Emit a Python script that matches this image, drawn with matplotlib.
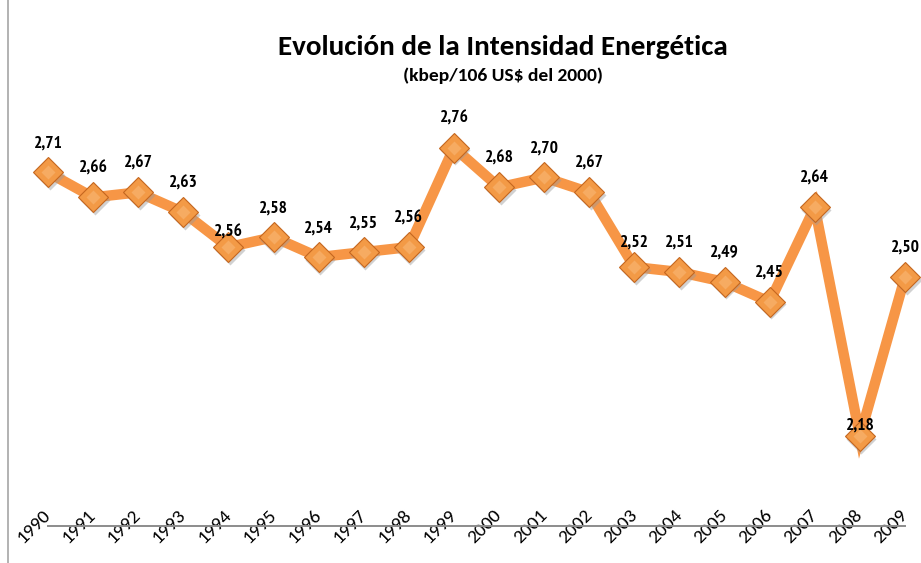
"""
Evolución de la Intensidad Energética, 1990-2009 (line with diamond markers).
"""

import matplotlib
matplotlib.use("Agg")
import matplotlib.pyplot as plt
from matplotlib.lines import Line2D
from matplotlib.transforms import ScaledTranslation

years = list(range(1990, 2010))
intensity = [2.71, 2.66, 2.67, 2.63, 2.56, 2.58, 2.54, 2.55, 2.56, 2.76,
             2.68, 2.70, 2.67, 2.52, 2.51, 2.49, 2.45, 2.64, 2.18, 2.50]
year_labels = [str(y) for y in years]

TITLE = "Evolución de la Intensidad Energética"
SUBTITLE = "(kbep/106 US$ del 2000)"

LINE_COLOR = "#F79646"
MARKER_FACE = "#F39A46"
MARKER_EDGE = "#C4661F"
CALIBRI = ["Carlito", "DejaVu Sans"]
NARROW = ["PT Sans Narrow", "Archivo Narrow", "DejaVu Sans"]

# label offsets above the point, in pixels (a few sit close to the marker)
LABEL_OFFSET = {1994: 15, 2003: 24, 2008: 11}

W, H = 921, 563
fig = plt.figure(figsize=(W / 100, H / 100), dpi=100)
fig.patch.set_facecolor("white")

x0, x1 = 48, 905        # pixel x of first / last year
y_axis, y_top = 526, 28  # pixel y of value 2.0 and 3.0
ax = fig.add_axes([x0 / W, (H - y_axis) / H, (x1 - x0) / W, (y_axis - y_top) / H])
ax.set_xlim(years[0], years[-1])
ax.set_ylim(2.0, 3.0)
for s in ("left", "right", "top"):
    ax.spines[s].set_visible(False)
ax.spines["bottom"].set_color("#8c8c8c")
ax.spines["bottom"].set_linewidth(1.4)
ax.set_yticks([])
ax.set_xticks(years)
ax.set_xticklabels(year_labels, rotation=45, ha="right", va="center",
                   rotation_mode="anchor", family=CALIBRI, fontsize=14)
ax.tick_params(axis="x", length=0, pad=-10)

# shadow, line, markers
ax.plot(years, intensity, color=LINE_COLOR, lw=7.5, solid_joinstyle="miter",
        clip_on=False, zorder=2)
ax.plot(years, intensity, ls="none", marker="D", ms=15, mfc="#9a9a9a",
        mec="none", alpha=0.45, clip_on=False, zorder=3,
        transform=ax.transData + ScaledTranslation(1.5 / 100, -2.5 / 100,
                                                   fig.dpi_scale_trans))
ax.plot(years, intensity, ls="none", marker="D", ms=15, mfc=MARKER_FACE,
        mec=MARKER_EDGE, mew=0.8, clip_on=False, zorder=4)
ax.plot(years, intensity, ls="none", marker="D", ms=7, mfc="#F8B06A",
        mec="none", alpha=0.8, clip_on=False, zorder=5)

for yr, v in zip(years, intensity):
    off = LABEL_OFFSET.get(yr, 29)
    ax.annotate(f"{v:.2f}".replace(".", ","), (yr, v),
                xytext=(0, off * 0.72), textcoords="offset points",
                ha="center", va="center", fontsize=12.5, fontweight="bold",
                family=NARROW, zorder=6, annotation_clip=False)

fig.text(503 / W, 1 - 47 / H, TITLE, ha="center", va="center",
         fontsize=21, fontweight="bold", family=CALIBRI)
fig.text(503 / W, 1 - 76 / H, SUBTITLE, ha="center", va="center",
         fontsize=14, fontweight="bold", family=CALIBRI)

# chart-area border on the left
fig.add_artist(Line2D([8 / W, 8 / W], [0, 1], color="#a6a6a6", lw=1.2))

fig.savefig("out.png", dpi=100, facecolor="white")
